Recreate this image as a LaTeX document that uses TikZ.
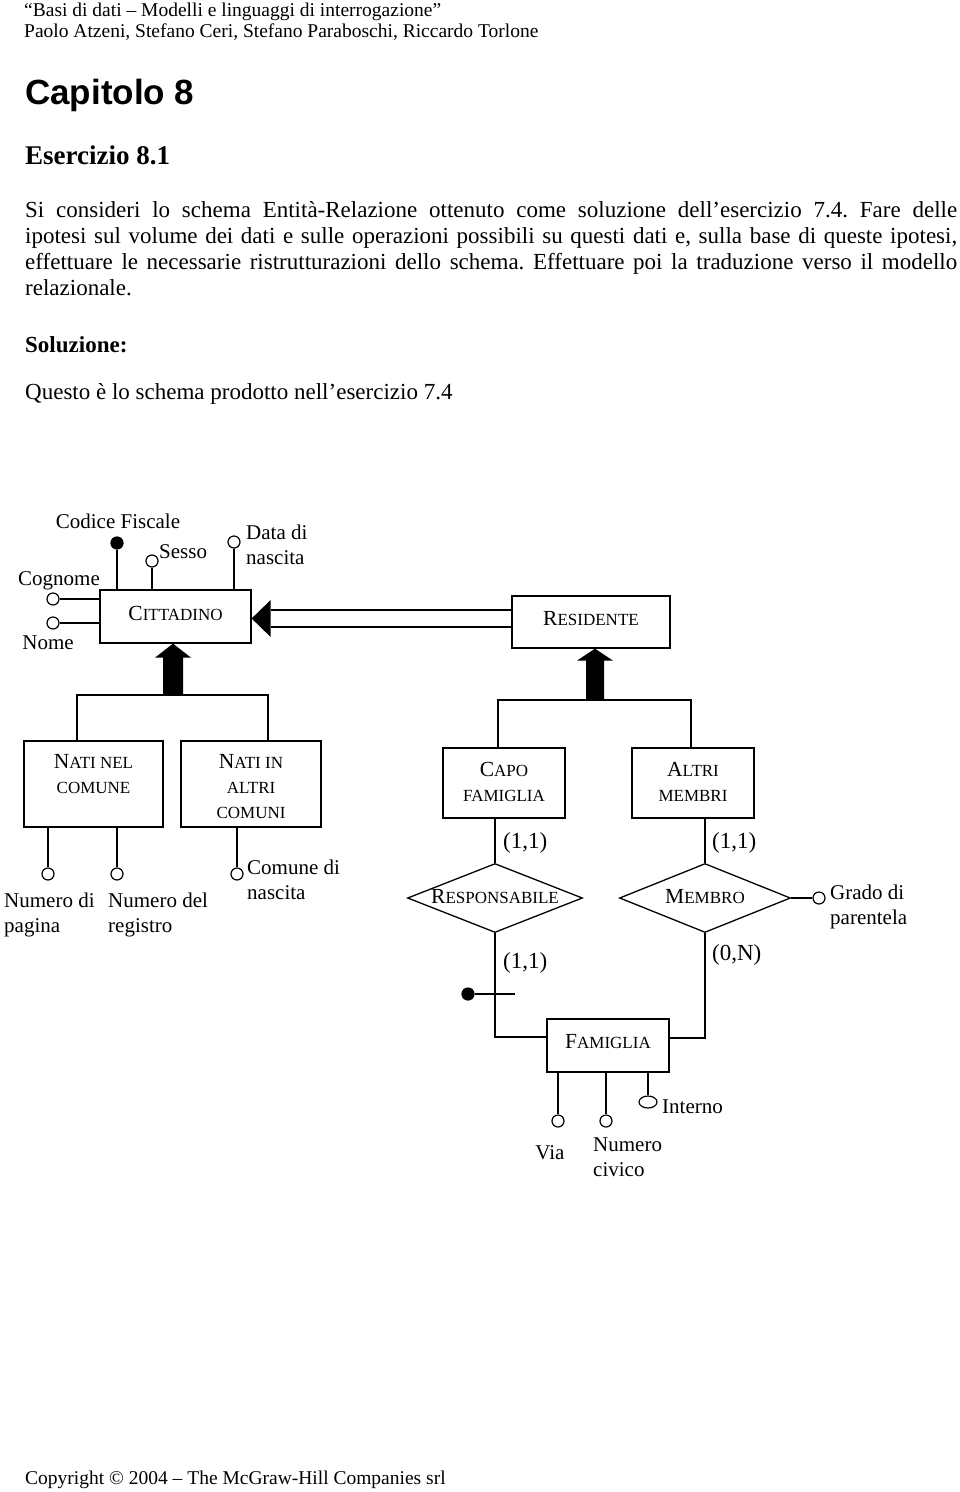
\documentclass[tikz,border=0pt]{standalone}
\usepackage{fontspec}
\setmainfont{Liberation Serif}
\newfontfamily\arialfont{Liberation Sans}
\usetikzlibrary{shapes.geometric,calc}
\newcommand{\bigL}[1]{{\fontsize{21.5}{25}\selectfont #1}}
\frenchspacing
\begin{document}
\begin{tikzpicture}[x=1pt,y=-1pt,
  ent/.style={draw, line width=1.3pt, rectangle, inner sep=0pt},
  rel/.style={draw, line width=1.3pt, diamond, inner sep=0pt},
  lbl/.style={inner sep=0pt, font=\fontsize{21}{25}\selectfont, align=left},
  card/.style={inner sep=0pt, font=\fontsize{23}{25}\selectfont},
  etxt/.style={inner sep=0pt, font=\fontsize{17}{25}\selectfont, align=center},
  att/.style={draw, line width=1.2pt, circle, fill=white, minimum size=12pt, inner sep=0pt},
  idatt/.style={att, fill=black},
  conn/.style={line width=1.3pt},
  body/.style={inner sep=0pt, anchor=base west, font=\fontsize{23}{26}\selectfont},
  small/.style={inner sep=0pt, anchor=base west, font=\fontsize{19.5}{21}\selectfont},
]
\useasboundingbox (0,0) rectangle (960,1492);
\fill[white] (0,0) rectangle (960,1492);

% ---- page text ----
\node[small] (h1) at (24,16) {“Basi di dati – Modelli e linguaggi di interrogazione”};
\node[small] (h2) at (24,37) {Paolo Atzeni, Stefano Ceri, Stefano Paraboschi, Riccardo Torlone};
\node[inner sep=0pt, anchor=base west, font=\arialfont\bfseries\fontsize{35}{40}\selectfont] (cap) at (25,104) {Capitolo 8};
\node[body, font=\bfseries\fontsize{27}{30}\selectfont] (es) at (25,164) {Esercizio 8.1};
\node[body] (p1) at (25,217) {\makebox[932pt][s]{Si consideri lo schema Entità-Relazione ottenuto come soluzione dell’esercizio 7.4. Fare delle}};
\node[body] (p2) at (25,243) {\makebox[932pt][s]{ipotesi sul volume dei dati e sulle operazioni possibili su questi dati e, sulla base di queste ipotesi,}};
\node[body] (p3) at (25,269) {\makebox[932pt][s]{effettuare le necessarie ristrutturazioni dello schema. Effettuare poi la traduzione verso il modello}};
\node[body] (p4) at (25,295) {relazionale.};
\node[body, font=\bfseries\fontsize{23}{26}\selectfont] (sol) at (25,352) {Soluzione:};
\node[body] (q) at (25,399) {Questo è lo schema prodotto nell’esercizio 7.4};
\node[small] (copy) at (25,1484) {Copyright © 2004 – The McGraw-Hill Companies srl};

% ---- entities ----
\node[ent, minimum width=151pt, minimum height=53pt] (citt) at (175.5,616.5) {};
\node[etxt] (citt-t) at (175.5,613) {\bigL{C}ITTADINO};
\node[ent, minimum width=158pt, minimum height=52pt] (res) at (591,622) {};
\node[etxt] (res-t) at (591,619) {\bigL{R}ESIDENTE};

% RESIDENTE -> CITTADINO (double line with triangle)
\coordinate (tribase) at ([xshift=19pt]citt.east);
\draw[conn] ([yshift=12pt]res.west) -- ([yshift=12pt]res.west -| tribase);
\draw[conn] ([yshift=-5pt]res.west) -- ([yshift=-5pt]res.west -| tribase);
\fill ([yshift=-2pt]citt.east) -- ++(19,-18.5) -- ++(0,37) -- cycle;

% attributes of CITTADINO
\node[lbl, anchor=center] (cf-l) at (118,521) {Codice Fiscale};
\node[idatt] (cf) at (117,543) {};
\draw[conn] (cf) -- (cf |- citt.north);
\node[att] (sesso) at (152,561) {};
\draw[conn] (sesso) -- (sesso |- citt.north);
\node[lbl, anchor=west] (sesso-l) at (159,552) {Sesso};
\node[att] (dn) at (234,542) {};
\draw[conn] (dn) -- (dn |- citt.north);
\node[lbl, anchor=north west] (dn-l) at (246,525) {Data di\\nascita};
\node[lbl, anchor=center] (cog-l) at (59,581) {Cognome};
\node[att] (cog) at (53,599) {};
\draw[conn] (cog) -- (cog -| citt.west);
\node[att] (nome) at (53,623) {};
\draw[conn] (nome) -- (nome -| citt.west);
\node[lbl, anchor=center] (nome-l) at (48,643) {Nome};

% generalization of CITTADINO
\coordinate (g1) at (173,695);
\coordinate (g1l) at (77,695);
\coordinate (g1r) at (268,695);
\fill (citt.south -| g1) -- ++(18,14) -- ++(-8,0) -- ++(0,38) -- ++(-20,0) -- ++(0,-38) -- ++(-8,0) -- cycle;
\node[ent, minimum width=139pt, minimum height=86pt] (nnc) at (93.5,784) {};
\node[etxt, anchor=north] (nnc-t) at (93.5,754) {\bigL{N}ATI NEL\\COMUNE};
\node[ent, minimum width=140pt, minimum height=86pt] (nac) at (251,784) {};
\node[etxt, anchor=north] (nac-t) at (251,754) {\bigL{N}ATI IN\\ALTRI\\COMUNI};
\draw[conn] (g1l |- nnc.north) -- (g1l) -- (g1r) -- (g1r |- nac.north);

% attributes of subclasses
\node[att] (np) at (48,874) {};
\draw[conn] (np) -- (np |- nnc.south);
\node[lbl, anchor=north west] (np-l) at (4,893) {Numero di\\pagina};
\node[att] (nr) at (117,874) {};
\draw[conn] (nr) -- (nr |- nnc.south);
\node[lbl, anchor=north west] (nr-l) at (108,893) {Numero del\\registro};
\node[att] (cn) at (237,874) {};
\draw[conn] (cn) -- (cn |- nac.south);
\node[lbl, anchor=north west] (cn-l) at (247,860) {Comune di\\nascita};

% generalization of RESIDENTE
\coordinate (g2) at (595,700);
\coordinate (g2l) at (498,700);
\coordinate (g2r) at (691,700);
\fill (res.south -| g2) -- ++(18,12) -- ++(-9,0) -- ++(0,40) -- ++(-18,0) -- ++(0,-40) -- ++(-9,0) -- cycle;
\node[ent, minimum width=122pt, minimum height=70pt] (capo) at (504,783) {};
\node[etxt] (capo-t) at (504,782) {\bigL{C}APO\\FAMIGLIA};
\node[ent, minimum width=122pt, minimum height=70pt] (altri) at (693,783) {};
\node[etxt] (altri-t) at (693,782) {\bigL{A}LTRI\\MEMBRI};
\draw[conn] (g2l |- capo.north) -- (g2l) -- (g2r) -- (g2r |- altri.north);

% relationships
\node[rel, minimum width=175pt, minimum height=69pt] (resp) at (495,898) {};
\node[etxt] (resp-t) at (495,897) {\bigL{R}ESPONSABILE};
\node[rel, minimum width=171pt, minimum height=69pt] (mem) at (705,898) {};
\node[etxt] (mem-t) at (705,897) {\bigL{M}EMBRO};
\draw[conn] (resp.north) -- (resp.north |- capo.south);
\draw[conn] (mem.north) -- (mem.north |- altri.south);
\node[card, anchor=west] (c1) at (503,843) {(1,1)};
\node[card, anchor=west] (c2) at (712,843) {(1,1)};
\node[card, anchor=west] (c3) at (503,963) {(1,1)};
\node[card, anchor=west] (c4) at (712,955) {(0,N)};

\node[att] (gp) at (819,898) {};
\draw[conn] (mem.east) -- (gp);
\node[lbl, anchor=north west] (gp-l) at (830,885) {Grado di\\parentela};

% FAMIGLIA
\node[ent, minimum width=122pt, minimum height=53pt] (fam) at (608,1045.5) {};
\node[etxt] (fam-t) at (608,1042) {\bigL{F}AMIGLIA};
\coordinate (fl) at (495,1037);
\coordinate (fr) at (705,1038);
\draw[conn] (resp.south) -- (resp.south |- fl) -- (fl -| fam.west);
\draw[conn] (mem.south) -- (mem.south |- fr) -- (fr -| fam.east);
\coordinate (idend) at (515,994);
\node[idatt] (idf) at (468,994) {};
\draw[conn] (idf) -- (idend);

\node[att] (via) at (558,1121) {};
\draw[conn] (via) -- (via |- fam.south);
\node[lbl, anchor=center] (via-l) at (550,1153) {Via};
\node[att] (nc) at (606,1121) {};
\draw[conn] (nc) -- (nc |- fam.south);
\node[lbl, anchor=north west] (nc-l) at (593,1138) {Numero\\civico};
\node[draw, ellipse, line width=1.2pt, fill=white, minimum width=18pt, minimum height=12pt, inner sep=0pt] (int) at (648,1102) {};
\draw[conn] (int) -- (int |- fam.south);
\node[lbl, anchor=west] (int-l) at (662,1107) {Interno};
\end{tikzpicture}
\end{document}
